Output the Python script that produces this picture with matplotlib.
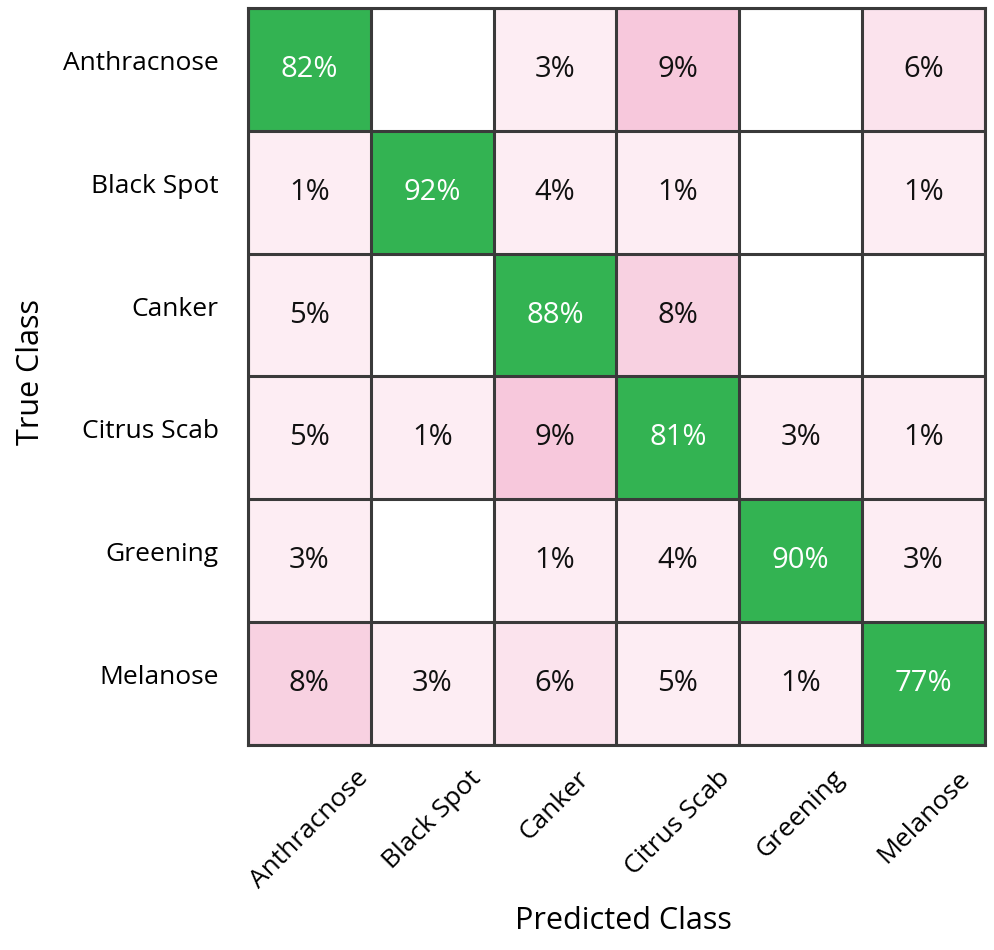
import numpy as np
import matplotlib
matplotlib.use("Agg")
import matplotlib.pyplot as plt
from matplotlib.colors import LinearSegmentedColormap, to_rgb
from matplotlib.transforms import ScaledTranslation

plt.rcParams['font.family'] = ['Open Sans', 'DejaVu Sans']

classes = ['Anthracnose', 'Black Spot', 'Canker', 'Citrus Scab', 'Greening', 'Melanose']

# rows = true class, columns = predicted class, in percent
cm = np.array([
    [82, 0, 3, 9, 0, 6],
    [1, 92, 4, 1, 0, 1],
    [5, 0, 88, 8, 0, 0],
    [5, 1, 9, 81, 3, 1],
    [3, 0, 1, 4, 90, 3],
    [8, 3, 6, 5, 1, 77],
])

green = '#33b352'
pinks = LinearSegmentedColormap.from_list('pk', ['#fdedf3', '#f7c8dc'])

n = len(classes)
rgb = np.ones((n, n, 3))
for i in range(n):
    for j in range(n):
        v = cm[i, j]
        if i == j:
            rgb[i, j] = to_rgb(green)
        elif v > 0:
            rgb[i, j] = pinks(min(max((v - 5) / 4, 0), 1))[:3]

fig = plt.figure(figsize=(9.95, 9.5), dpi=100)
ax = fig.add_axes([0.2492, 0.2158, 0.7407, 0.7758])
ax.imshow(rgb, aspect='auto')

for i in range(n):
    for j in range(n):
        if cm[i, j] > 0:
            ax.text(j, i, f'{cm[i, j]}%', ha='center', va='center', fontsize=21,
                    color='white' if i == j else '#111111')

ax.set_xticks(np.arange(n))
ax.set_yticks(np.arange(n))
ax.set_xticklabels(classes, rotation=45, ha='center', fontsize=19)
ax.set_yticklabels(classes, fontsize=19)
ax.tick_params(length=0)
ax.tick_params(axis='x', pad=15)
ax.tick_params(axis='y', pad=21)
for lab in ax.get_yticklabels():
    lab.set_transform(lab.get_transform() + ScaledTranslation(0, 9 / 100, fig.dpi_scale_trans))

ax.set_xticks(np.arange(-0.5, n, 1), minor=True)
ax.set_yticks(np.arange(-0.5, n, 1), minor=True)
ax.grid(which='minor', color='#3a3a3a', linewidth=2.2)
ax.tick_params(which='minor', length=0)
for s in ax.spines.values():
    s.set_color('#3a3a3a')
    s.set_linewidth(2.2)

fig.text(0.627, 0.031, 'Predicted Class', ha='center', va='center', fontsize=22)
fig.text(0.031, 0.608, 'True Class', ha='center', va='center', rotation=90, fontsize=22)

fig.savefig('out.png', dpi=100)
